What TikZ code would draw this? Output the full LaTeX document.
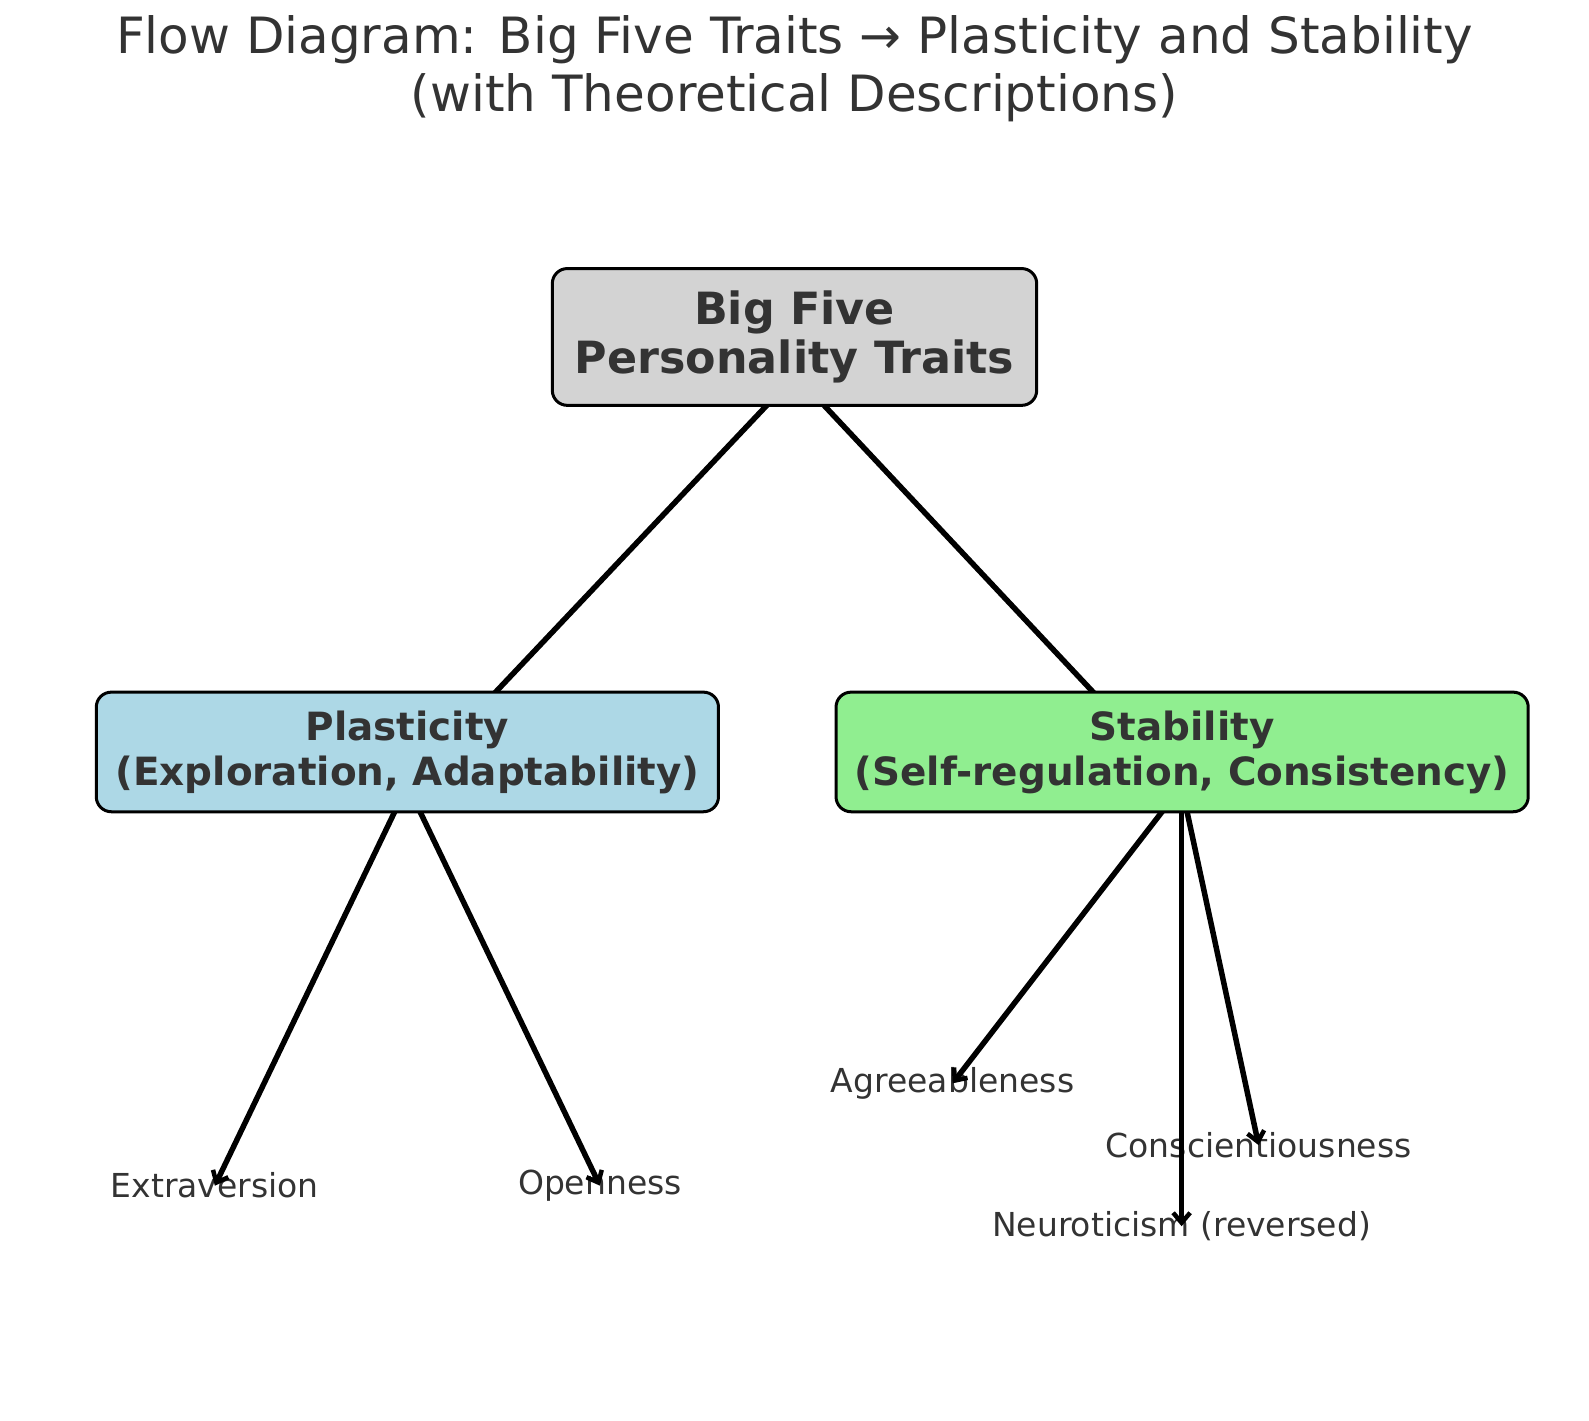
\documentclass[tikz,border=0pt]{standalone}
\usepackage{fontspec}
\setmainfont{DejaVu Sans}
\usetikzlibrary{arrows.meta}
\definecolor{txtgray}{HTML}{333333}
\definecolor{boxgray}{HTML}{D3D3D3}
\definecolor{boxblue}{HTML}{ADD8E6}
\definecolor{boxgreen}{HTML}{90EE90}

\begin{document}
\begin{tikzpicture}[x=1.0134pt,y=-1.0134pt,
  box/.style={draw=black, line width=3pt, rounded corners=15pt, text=txtgray,
    font=\bfseries\fontsize{38.9}{45}\selectfont, align=center, inner sep=0pt},
  leaf/.style={text=txtgray, font=\fontsize{33}{38}\selectfont, inner sep=0pt},
  link/.style={line width=5.5pt},
  arr/.style={link, -{Straight Barb[length=10pt,width=17pt,line width=4.5pt]}}]
\useasboundingbox (0,0) rectangle (1568,1402.2);
% title
\node (title) at (784,68) [text=txtgray, font=\fontsize{50}{58}\selectfont, align=center]
  {Flow Diagram: Big Five Traits → Plasticity and Stability\\(with Theoretical Descriptions)};
% points the connectors leave from (under the boxes)
\coordinate (big-o) at (785,370);
\coordinate (plas-o) at (402,775);
\coordinate (stab-o) at (1166,776);
% leaves
\node [leaf] (extra) at (212,1170) {Extraversion};
\node [leaf] (open) at (592,1170) {Openness};
\node [leaf] (agree) at (940,1069) {Agreeableness};
\node [leaf] (consc) at (1242,1130) {Conscientiousness};
\node [leaf] (neuro) at (1166,1210) {Neuroticism (reversed)};
% connectors
\draw [link] (big-o) -- (plas-o);
\draw [link] (big-o) -- (stab-o);
\draw [arr] (plas-o) -- (extra.center);
\draw [arr] (plas-o) -- (open.center);
\draw [arr] (stab-o) -- (agree.center);
\draw [arr] (stab-o) -- (neuro.center);
\draw [arr] (stab-o) -- (consc.center);
% boxes
\node [box, fill=boxgray, minimum width=484.4pt, minimum height=136.8pt,
  font=\bfseries\fontsize{44.4}{49}\selectfont] (big) at (784,332.5) {Big Five\\Personality Traits};
\node [box, fill=boxblue, minimum width=622.2pt, minimum height=119.6pt] (plas) at (402,742)
  {Plasticity\\(Exploration, Adaptability)};
\node [box, fill=boxgreen, minimum width=692.2pt, minimum height=119.6pt] (stab) at (1166.5,742)
  {Stability\\(Self-regulation, Consistency)};
\end{tikzpicture}
\end{document}
